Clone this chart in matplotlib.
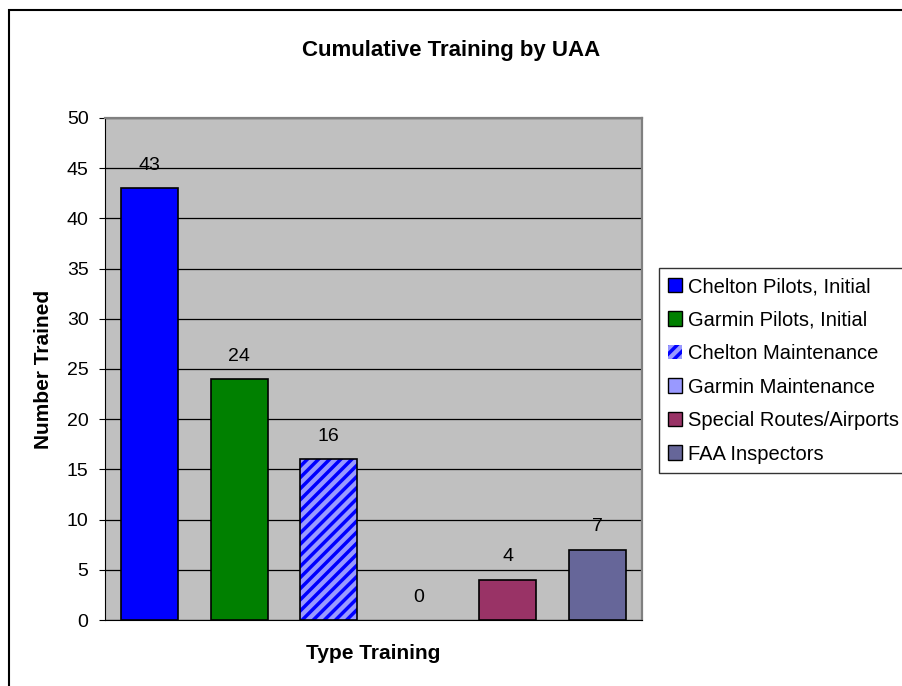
import matplotlib
matplotlib.use("Agg")
import matplotlib.pyplot as plt
from matplotlib.patches import Patch, Rectangle

plt.rcParams['font.family'] = ['Liberation Sans', 'DejaVu Sans']
plt.rcParams['hatch.linewidth'] = 2.5

# Data
categories = ['Chelton Pilots, Initial', 'Garmin Pilots, Initial', 'Chelton Maintenance',
              'Garmin Maintenance', 'Special Routes/Airports', 'FAA Inspectors']
values = [43, 24, 16, 0, 4, 7]
colors = ['#0000FF', '#008000', '#9999FF', '#9999FF', '#993366', '#666699']
hatches = ['', '', '///', '', '', '']

fig = plt.figure(figsize=(9.02, 6.86), dpi=100)
ax = fig.add_axes([0.1164, 0.0962, 0.5953, 0.7318])
ax.set_facecolor('#C0C0C0')

for i, (v, c, h) in enumerate(zip(values, colors, hatches)):
    if h:
        ax.bar(i, v, width=0.64, color=c, edgecolor='#0000FF', hatch=h, linewidth=0, zorder=3)
        ax.bar(i, v, width=0.64, fill=False, edgecolor='black', linewidth=1.2, zorder=4)
    else:
        ax.bar(i, v, width=0.64, color=c, edgecolor='black', linewidth=1.2 if v else 0, zorder=3)
    ax.annotate(str(v), (i, v), xytext=(0, 16.5), textcoords='offset points',
                ha='center', va='center', fontsize=14)

ax.set_xlim(-0.5, 5.5)
ax.set_ylim(0, 50)
ax.set_yticks(range(0, 51, 5))
ax.yaxis.grid(True, color='black', linewidth=0.9, zorder=0)
ax.set_axisbelow(True)
ax.set_xticks([])
ax.tick_params(axis='y', labelsize=14, direction='out', length=4.3, pad=7.5)
for s in ['top', 'right']:
    ax.spines[s].set_color('#808080')
    ax.spines[s].set_linewidth(1.6)
ax.spines['left'].set_color('black')
ax.spines['bottom'].set_color('black')

ax.set_ylabel('Number Trained', fontsize=15, fontweight='bold', labelpad=10)
ax.set_xlabel('Type Training', fontsize=15, fontweight='bold', labelpad=17)
fig.text(0.5, 0.927, 'Cumulative Training by UAA', ha='center', va='center',
         fontsize=16, fontweight='bold')

handles = []
for cat, c, h in zip(categories, colors, hatches):
    if h:
        handles.append(Patch(facecolor=c, edgecolor='#0000FF', hatch=h, linewidth=0))
    else:
        handles.append(Patch(facecolor=c, edgecolor='black', linewidth=1))
leg = fig.legend(handles, categories, loc='upper left', bbox_to_anchor=(0.7306, 0.6093),
                 fontsize=14.5, frameon=True, fancybox=False, edgecolor='black',
                 handlelength=0.7, handleheight=0.7, handletextpad=0.3,
                 labelspacing=0.72, borderpad=0.45, borderaxespad=0)
leg.get_frame().set_linewidth(1)

fig.patches.append(Rectangle((9 / 902, -0.05), 1.1, 1.05 - 10 / 686, transform=fig.transFigure,
                             fill=False, edgecolor='black', linewidth=1.5))

fig.savefig('out.png', dpi=100)
